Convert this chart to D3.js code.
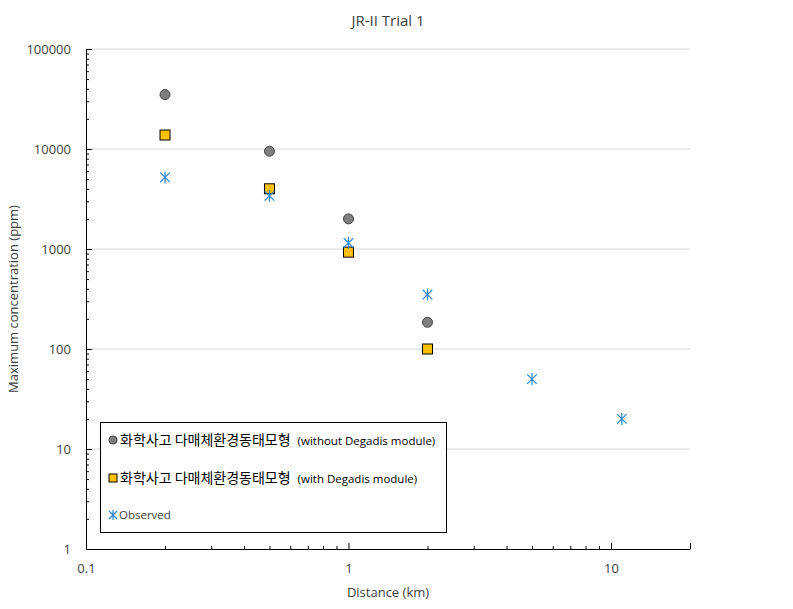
<!DOCTYPE html>
<html><head><meta charset="utf-8">
<script src="https://cdn.jsdelivr.net/npm/d3@7"></script>
<style>body{margin:0;background:#fff}text{font-family:"Open Sans",sans-serif;fill:#404040}</style>
</head><body><svg id="c" width="793" height="609"></svg>
<script>
const distances = [0.2, 0.5, 1, 2];
const withoutDegadis = [35000, 9500, 2000, 185];
const withDegadis = [13800, 4000, 930, 100];
const obsDistances = [0.2, 0.5, 1, 2, 5, 11];
const observed = [5200, 3400, 1150, 350, 50, 20];
const yTicks = [1, 10, 100, 1000, 10000, 100000];
const xTicks = [0.1, 1, 10];

const svg = d3.select("#c");
const x = d3.scaleLog().domain([0.1, 20]).range([86, 690]);
const y = d3.scaleLog().domain([1, 100000]).range([549, 49]);

// gridlines
svg.append("g").selectAll("line").data(yTicks.slice(1)).join("line")
  .attr("x1", 86).attr("x2", 690).attr("y1", d => y(d)).attr("y2", d => y(d))
  .attr("stroke", "#d9d9d9").attr("stroke-width", 1);

// minor tick values
const minorY = [];
for (let e = 0; e < 5; e++) for (let m = 2; m <= 9; m++) minorY.push(m * Math.pow(10, e));
const minorX = [];
for (let e = -1; e < 2; e++) for (let m = 2; m <= 9; m++) { const v = m * Math.pow(10, e); if (v <= 20) minorX.push(v); }

// y axis
const yAx = svg.append("g").attr("transform", "translate(86,0)")
  .call(d3.axisRight(y).tickValues(yTicks).tickFormat(d3.format("d")).tickSize(6).tickSizeOuter(0));
yAx.select(".domain").attr("stroke", "#000");
yAx.selectAll(".tick line").attr("stroke", "#000");
yAx.selectAll("text").attr("x", -15).attr("text-anchor", "end").style("font-size", "13px").attr("fill", "#404040");
svg.append("g").attr("transform", "translate(86,0)")
  .call(d3.axisRight(y).tickValues(minorY).tickFormat("").tickSize(3).tickSizeOuter(0))
  .call(g => { g.select(".domain").remove(); g.selectAll("line").attr("stroke", "#000"); });

// x axis
const xAx = svg.append("g").attr("transform", "translate(0,549)")
  .call(d3.axisTop(x).tickValues(xTicks.concat([20])).tickFormat(d => d === 20 ? "" : String(d)).tickSize(6).tickSizeOuter(0));
xAx.select(".domain").attr("stroke", "#000");
xAx.selectAll(".tick line").attr("stroke", "#000");
xAx.selectAll("text").attr("y", 15).attr("dy", "0.71em").style("font-size", "13px").attr("fill", "#404040");
svg.append("g").attr("transform", "translate(0,549)")
  .call(d3.axisTop(x).tickValues(minorX).tickFormat("").tickSize(3).tickSizeOuter(0))
  .call(g => { g.select(".domain").remove(); g.selectAll("line").attr("stroke", "#000"); });

// titles
svg.append("text").attr("x", 388).attr("y", 26).attr("text-anchor", "middle").style("font-size", "15px").text("JR-II Trial 1");
svg.append("text").attr("x", 388).attr("y", 597).attr("text-anchor", "middle").style("font-size", "13px").text("Distance (km)");
svg.append("text").attr("transform", "translate(18,299) rotate(-90)").attr("text-anchor", "middle").style("font-size", "13px").text("Maximum concentration (ppm)");

// observed marker: vertical + X
function obsPath(cx, cy, r) {
  const d = r * 0.8;
  return `M${cx},${cy - r}L${cx},${cy + r}M${cx - d},${cy - d}L${cx + d},${cy + d}M${cx - d},${cy + d}L${cx + d},${cy - d}`;
}

// series
svg.append("g").selectAll("circle").data(distances.map((d, i) => [d, withoutDegadis[i]])).join("circle")
  .attr("cx", d => x(d[0])).attr("cy", d => y(d[1])).attr("r", 5)
  .attr("fill", "#7f7f7f").attr("stroke", "#404040").attr("stroke-width", 1);
svg.append("g").selectAll("rect").data(distances.map((d, i) => [d, withDegadis[i]])).join("rect")
  .attr("x", d => x(d[0]) - 5).attr("y", d => y(d[1]) - 5).attr("width", 10).attr("height", 10)
  .attr("fill", "#ffc000").attr("stroke", "#000").attr("stroke-width", 1);
svg.append("g").selectAll("path").data(obsDistances.map((d, i) => [d, observed[i]])).join("path")
  .attr("d", d => obsPath(x(d[0]), y(d[1]), 6))
  .attr("stroke", "#2e86d1").attr("stroke-width", 1.2).attr("fill", "none");

// legend
const lg = svg.append("g");
lg.append("rect").attr("x", 100.5).attr("y", 422.5).attr("width", 346).attr("height", 110)
  .attr("fill", "#fff").attr("stroke", "#000").attr("stroke-width", 1);
lg.append("circle").attr("cx", 113).attr("cy", 440).attr("r", 4).attr("fill", "#7f7f7f").attr("stroke", "#404040");
lg.append("rect").attr("x", 109).attr("y", 474).attr("width", 8).attr("height", 8).attr("fill", "#ffc000").attr("stroke", "#000");
lg.append("path").attr("d", obsPath(113, 515, 5)).attr("stroke", "#2e86d1").attr("stroke-width", 1.2);
const t1 = lg.append("text").attr("x", 120).attr("y", 445);
t1.append("tspan").style("font-family", "'Noto Sans CJK KR'").style("font-size", "14px").attr("fill", "#000").text("화학사고 다매체환경동태모형");
t1.append("tspan").style("font-size", "11.5px").attr("dx", 7).attr("fill", "#000").text("(without Degadis module)");
const t2 = lg.append("text").attr("x", 120).attr("y", 483);
t2.append("tspan").style("font-family", "'Noto Sans CJK KR'").style("font-size", "14px").attr("fill", "#000").text("화학사고 다매체환경동태모형");
t2.append("tspan").style("font-size", "11.5px").attr("dx", 7).attr("fill", "#000").text("(with Degadis module)");
lg.append("text").attr("x", 119).attr("y", 519).style("font-size", "11.5px").attr("fill", "#000").text("Observed");
</script></body></html>
